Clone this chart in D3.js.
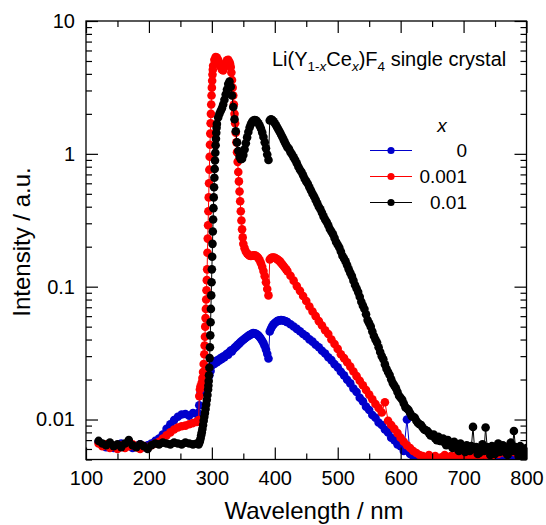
<!DOCTYPE html>
<html>
<head>
<meta charset="utf-8">
<script src="https://cdn.jsdelivr.net/npm/d3@7"></script>
<style>
  body { margin: 0; background: #fff; }
  svg { font-family: "Liberation Sans", Arial, sans-serif; }
  .axis path { display: none; }
  .axis line { stroke: #000; stroke-width: 1.2; }
  .axis text { font-size: 20px; fill: #000; }
</style>
</head>
<body>
<svg width="546" height="525"></svg>
<script>
// ---------------- data (wavelength nm, intensity a.u.) ----------------
const seriesNames = ['0', '0.001', '0.01'];
const seriesColors = ['#0000cc', '#ff0000', '#000000'];

const blueData = [
  [120,.0068],[126,.0064],[132,.0062],[138,.0065],[144,.0061],[150,.0063],[156,.0066],[162,.0062],[168,.0064],[174,.0061],[180,.0063],[186,.0065],[192,.0062],[198,.0064],[204,.0066],[210,.0069],[216,.0072],[222,.0077],[228,.0085],[234,.0092],[240,.0099],[246,.0105],[252,.0109],[258,.0110],[264,.0107],[270,.0112],[276,.0110],
  [278,.0112],[280,.0128],[282,.0158],[284,.0166],[286,.0174],[288,.0182],[290,.0190],[292,.0198],[294,.0206],[296,.0215],[298,.0232],[300,.0255],[302,.0268],[304,.0262],[306,.0275],[308,.0270],[310,.0282],[312,.0278],[314,.0290],[316,.0286],[318,.0298],[320,.0294],[322,.0306],[324,.0312],[326,.0308],[328,.0322],[330,.0330],[332,.0326],[334,.0338],[336,.0346],[338,.0352],[340,.0360],[342,.0368],[344,.0376],[346,.0384],[348,.0392],[350,.0398],[352,.0405],[354,.0412],[356,.0420],[358,.0426],[360,.0432],[362,.0438],[364,.0443],[366,.0447],[368,.0446],[370,.0442],[372,.0436],[374,.0428],[376,.0418],[378,.0406],[380,.0392],[382,.0376],[384,.0358],[386,.0336],[388,.0312],[390,.0288],[392,.0460],[394,.0485],[396,.0505],[398,.0520],[400,.0532],[402,.0542],[404,.0550],[406,.0555],[408,.0558],[410,.0560],[412,.0559],[414,.0556],[416,.0552],[418,.0547],[420,.0541],
  [425,.0522],[430,.0502],[435,.0481],[440,.0462],[445,.0440],[450,.0424],[455,.0401],[460,.0386],[465,.0365],[470,.0350],[475,.0329],[480,.0314],[485,.0294],[490,.0280],[495,.0261],[500,.0247],[505,.0229],[510,.0215],[515,.0199],[520,.0187],[525,.0171],[530,.0161],[535,.0146],[540,.0137],[545,.0125],[550,.0118],[555,.0108],[560,.0103],[565,.0095],[570,.0091],[575,.0084],[580,.0080],[585,.0073],[590,.0070],[595,.0065],[600,.0063],[605,.0058],[610,.0100],[615,.0055],[620,.0053],[625,.0050],[630,.0049],[635,.0051],[640,.0048],[645,.0050],[650,.0047],[655,.0049],[660,.0048],[665,.0051],[670,.0047],[675,.0049],[680,.0052],[685,.0048],[690,.0050],[695,.0047],[700,.0051],[705,.0049],[710,.0053],[715,.0048],[720,.0050],[725,.0052],[730,.0048],[735,.0051],[740,.0054],[745,.0049],[750,.0052],[755,.0050],[760,.0055],[765,.0051],[770,.0049],[775,.0053],[780,.0056],[785,.0052],[790,.0058],[795,.0054],[800,.0057]
];

const redData = [
  [120,.0066],[126,.0063],[132,.0065],[138,.0061],[144,.0063],[150,.0060],[156,.0064],[162,.0061],[168,.0063],[174,.0065],[180,.0062],[186,.0060],[192,.0063],[198,.0061],[204,.0064],[210,.0066],[216,.0068],[222,.0072],[228,.0076],[234,.0080],[240,.0084],[246,.0087],[252,.0089],[258,.0090],[264,.0092],[270,.0094],[276,.0096],
  [278,.0097],[279,.0099],[280,.0150],[281,.0168],[282,.0178],[283,.0175],[284,.0190],[285,.0205],[286,.0228],[287,.0262],[288,.0310],
  [288.5,.036],[289,.042],[289.5,.050],[290,.058],[290.5,.068],[291,.080],[291.5,.094],[292,.112],[292.5,.135],[293,.18],[293.5,.23],[294,.29],[294.5,.37],[295,.47],[295.5,.60],[296,.76],[296.5,.95],[297,1.17],[297.5,1.42],[298,1.70],[298.5,2.0],[299,2.35],[299.5,2.75],[300,3.15],[300.5,3.55],[301,3.95],[301.5,4.3],[302,4.6],
  [304,5.1],[306,5.35],[308,5.3],[310,5.1],[312,4.8],[314,4.5],[316,4.3],[318,4.25],[320,4.5],[322,4.85],[324,5.05],[326,5.1],[328,4.9],
  [329,4.75],[330,4.5],[331,4.1],[332,3.6],[333,3.15],[334,2.75],[335,2.35],[336,2.0],[337,1.7],[338,1.44],[339,1.22],[340,1.03],[341,.87],[342,.73],[343,.62],[344,.52],[345,.44],[346,.37],[347,.315],[348,.27],[349,.235],[350,.21],
  [352,.195],[354,.184],[356,.178],[358,.174],[360,.171],[362,.170],[364,.171],[366,.172],[368,.172],[370,.171],[372,.168],[374,.164],[376,.158],[378,.150],[380,.141],[382,.131],[384,.120],[386,.108],[388,.096],[390,.086],[392,.160],[394,.164],[396,.166],[398,.166],[400,.165],[402,.163],[404,.161],[406,.158],[408,.155],[410,.151],[412,.147],[414,.143],[416,.139],[418,.135],[420,.131],
  [425,.121],[430,.111],[435,.101],[440,.093],[445,.085],[450,.078],[455,.071],[460,.065],[465,.060],[470,.055],[475,.051],[480,.047],[485,.044],[490,.040],[495,.037],[500,.034],[505,.031],[510,.029],[515,.027],[520,.025],[525,.023],[530,.0212],[535,.0196],[540,.0181],[545,.0167],[550,.0154],[555,.0142],[560,.0131],[565,.0122],[570,.0113],[575,.0135],[580,.0098],[585,.0091],[590,.0085],[595,.0079],[600,.0073],[605,.0068],[610,.0064],[615,.0061],[620,.0058],[625,.0056],[630,.0054],[635,.0053],[640,.0052],[645,.0054],[650,.0051],[655,.0053],[660,.0050],[665,.0052],[670,.0054],[675,.0051],[680,.0053],[685,.0050],[690,.0055],[695,.0052],[700,.0054],[705,.0051],[710,.0056],[715,.0053],[720,.0055],[725,.0052],[730,.0057],[735,.0054],[740,.0056],[745,.0053],[750,.0058],[755,.0055],[760,.0060],[765,.0056],[770,.0062],[775,.0057],[780,.0059],[785,.0055],[790,.0058],[795,.0056],[800,.0060]
];

const blackData = [
  [120,.0069],[126,.0066],[132,.0064],[138,.0067],[144,.0063],[150,.0065],[156,.0062],[162,.0066],[168,.0070],[174,.0064],[180,.0062],[186,.0065],[192,.0063],[198,.0060],[204,.0064],[210,.0066],[216,.0065],[222,.0067],[228,.0066],[234,.0065],[240,.0067],[246,.0066],[252,.0065],[258,.0067],[264,.0066],[270,.0065],[276,.0066],
  [278,.0066],[279,.0065],[280,.0067],[281,.0069],[282,.0072],[283,.0076],[284,.0080],[285,.0085],[286,.0091],[287,.0098],[288,.0105],[289,.0112],[290,.0120],[291,.0130],[292,.0141],[293,.0153],[294,.0168],
  [294.5,.0180],[295,.0195],[295.5,.0215],[296,.0245],[296.5,.0290],[297,.035],[297.5,.043],[298,.054],[298.5,.068],[299,.086],[299.5,.108],[300,.135],[300.5,.168],[301,.21],[301.5,.26],[302,.32],[302.5,.39],[303,.47],[303.5,.56],[304,.66],[304.5,.77],[305,.89],[305.5,1.02],[306,1.16],[306.5,1.30],[307,1.44],[307.5,1.57],[308,1.68],
  [310,1.88],[312,2.0],[314,2.1],[316,2.2],[318,2.35],[320,2.55],[322,2.8],[324,3.05],[326,3.35],[328,3.5],[330,3.2],
  [332,2.75],[334,2.25],[336,1.82],[338,1.48],[340,1.22],[342,1.05],[344,.95],[346,.91],[348,.92],[350,.98],[352,1.08],[354,1.2],[356,1.33],[358,1.46],[360,1.58],[362,1.67],[364,1.74],[366,1.78],[368,1.80],[370,1.79],[372,1.75],[374,1.70],[376,1.63],[378,1.55],[380,1.45],[382,1.34],[384,1.22],[386,1.10],[388,.99],[390,.90],[392,1.78],[394,1.82],[396,1.80],[398,1.76],[400,1.70],[402,1.64],[404,1.58],[406,1.52],[408,1.46],[410,1.40],[412,1.34],[414,1.28],[416,1.22],[418,1.17],[420,1.12],
  [422.5,1.09],[425,1.03],[427.5,.99],[430,.94],[432.5,.90],[435,.85],[437.5,.80],[440,.76],[442.5,.73],[445,.69],[447.5,.65],[450,.62],[452.5,.595],[455,.56],[457.5,.53],[460,.50],[462.5,.478],[465,.45],[467.5,.425],[470,.40],[472.5,.383],[475,.36],[477.5,.338],[480,.32],[482.5,.307],[485,.29],[487.5,.272],[490,.26],[492.5,.248],[495,.232],[497.5,.217],[500,.207],[502.5,.197],[505,.184],[507.5,.171],[510,.163],[512.5,.155],[515,.145],[517.5,.135],[520,.127],[522.5,.120],[525,.111],[527.5,.103],[530,.097],[532.5,.091],[535,.084],[537.5,.077],[540,.072],[542.5,.068],[545,.062],[547.5,.056],[550,.053],[552.5,.050],[555,.046],[557.5,.0425],[560,.040],[562.5,.038],[565,.035],[567.5,.0322],[570,.030],[572.5,.0284],[575,.026],[577.5,.0241],[580,.0228],[582.5,.0216],[585,.0201],[587.5,.0188],[590,.0180],[592.5,.0172],[595,.0161],[597.5,.0151],[600,.0146],[602.5,.0141],[605,.0132],[607.5,.0124],[610,.0121],[612.5,.0118],[615,.0112],[617.5,.0106],[620,.0105],[622.5,.0103],[625,.0098],[627.5,.0094],[630,.0092],[632.5,.0091],[635,.0087],[637.5,.0084],[640,.0083],[642.5,.0082],[645,.0079],[647.5,.0076],[650,.0076],[652.5,.0077],[655,.0072],[657.5,.0070],
  [660,.0074],[662.5,.0069],[665,.0069],[667.5,.0072],[670,.0067],[672.5,.0064],[675,.0070],[677.5,.0066],[680,.0064],[682.5,.0061],[685,.0068],[687.5,.0063],[690,.0062],[692.5,.0058],[695,.0066],[697.5,.0061],[700,.0060],[702.5,.0057],[705,.0064],[707.5,.0060],[710,.0058],[712.5,.0063],[715,.0088],[717.5,.0060],[720,.0062],[722.5,.0055],[725,.0056],[727.5,.0061],[730,.0065],[732.5,.0058],[735,.0087],[737.5,.0062],[740,.0059],[742.5,.0054],[745,.0063],[747.5,.0060],[750,.0055],[752.5,.0061],[755,.0066],[757.5,.0057],[760,.0058],[762.5,.0064],[765,.0062],[767.5,.0056],[770,.0054],[772.5,.0060],[775,.0067],[777.5,.0058],[780,.0082],[782.5,.0062],[785,.0057],[787.5,.0053],[790,.0063],[792.5,.0059],[795,.0053],[797.5,.0058],[800,.0061]
];

const xMajorTicks = [100, 200, 300, 400, 500, 600, 700, 800];
const xMinorTicks = [150, 250, 350, 450, 550, 650, 750];
const yMajorTicks = [0.01, 0.1, 1, 10];
const yTickLabels = ['0.01', '0.1', '1', '10'];
const yMinorTicks = [0.005, 0.006, 0.007, 0.008, 0.009,
  0.02, 0.03, 0.04, 0.05, 0.06, 0.07, 0.08, 0.09,
  0.2, 0.3, 0.4, 0.5, 0.6, 0.7, 0.8, 0.9,
  2, 3, 4, 5, 6, 7, 8, 9];

//================ layout =================
const plotLeft = 86, plotRight = 526.5, plotTop = 21, plotBottom = 459.5;
const svg = d3.select('svg');

const x = d3.scaleLinear().domain([100, 800]).range([plotLeft, plotRight]);
const y = d3.scaleLog().domain([0.005, 10]).range([plotBottom, plotTop]);

svg.append('defs').append('clipPath').attr('id', 'plotclip')
  .append('rect')
    .attr('x', plotLeft).attr('y', plotTop)
    .attr('width', plotRight - plotLeft).attr('height', plotBottom - plotTop);

//================ series =================
const line = d3.line().x(d => x(d[0])).y(d => y(d[1]));
const allSeries = [blueData, redData, blackData];

const plot = svg.append('g').attr('clip-path', 'url(#plotclip)');
allSeries.forEach((data, i) => {
  const g = plot.append('g');
  g.append('path')
    .datum(data)
    .attr('fill', 'none')
    .attr('stroke', seriesColors[i])
    .attr('stroke-width', 1)
    .attr('d', line);
  g.selectAll('circle')
    .data(data)
    .join('circle')
      .attr('cx', d => x(d[0]))
      .attr('cy', d => y(d[1]))
      .attr('r', 4.3)
      .attr('fill', seriesColors[i]);
});

//================ axes (ticks inward) =================
const fmt = d => yTickLabels[yMajorTicks.indexOf(d)];

svg.append('g').attr('class', 'axis')
  .attr('transform', `translate(0,${plotBottom})`)
  .call(d3.axisBottom(x).tickValues(xMajorTicks).tickSize(-12).tickPadding(11.5).tickFormat(d3.format('d')));
svg.append('g').attr('class', 'axis')
  .attr('transform', `translate(0,${plotBottom})`)
  .call(d3.axisBottom(x).tickValues(xMinorTicks).tickSize(-6).tickFormat(''));
svg.append('g').attr('class', 'axis')
  .attr('transform', `translate(0,${plotTop})`)
  .call(d3.axisTop(x).tickValues(xMajorTicks).tickSize(-12).tickFormat(''));
svg.append('g').attr('class', 'axis')
  .attr('transform', `translate(0,${plotTop})`)
  .call(d3.axisTop(x).tickValues(xMinorTicks).tickSize(-6).tickFormat(''));

svg.append('g').attr('class', 'axis')
  .attr('transform', `translate(${plotLeft},0)`)
  .call(d3.axisLeft(y).tickValues(yMajorTicks).tickSize(-12).tickPadding(11).tickFormat(fmt));
svg.append('g').attr('class', 'axis')
  .attr('transform', `translate(${plotLeft},0)`)
  .call(d3.axisLeft(y).tickValues(yMinorTicks).tickSize(-6).tickFormat(''));
svg.append('g').attr('class', 'axis')
  .attr('transform', `translate(${plotRight},0)`)
  .call(d3.axisRight(y).tickValues(yMajorTicks).tickSize(-12).tickFormat(''));
svg.append('g').attr('class', 'axis')
  .attr('transform', `translate(${plotRight},0)`)
  .call(d3.axisRight(y).tickValues(yMinorTicks).tickSize(-6).tickFormat(''));

svg.append('rect')
  .attr('x', plotLeft).attr('y', plotTop)
  .attr('width', plotRight - plotLeft).attr('height', plotBottom - plotTop)
  .attr('fill', 'none').attr('stroke', '#000').attr('stroke-width', 1.3);

//================ titles =================
svg.append('text')
  .attr('x', 314).attr('y', 519)
  .attr('text-anchor', 'middle')
  .style('font-size', '24px')
  .text('Wavelength / nm');

svg.append('text')
  .attr('transform', 'translate(30,242) rotate(-90)')
  .attr('text-anchor', 'middle')
  .style('font-size', '24px')
  .text('Intensity / a.u.');

//---- sample annotation
const ann = svg.append('text')
  .attr('x', 272).attr('y', 66)
  .style('font-size', '20px');
ann.append('tspan').text('Li(Y');
ann.append('tspan').attr('dy', 5).style('font-size', '13.5px').text('1-');
ann.append('tspan').style('font-size', '13.5px').style('font-style', 'italic').text('x');
ann.append('tspan').attr('dy', -5).text('Ce');
ann.append('tspan').attr('dy', 5).style('font-size', '13.5px').style('font-style', 'italic').text('x');
ann.append('tspan').attr('dy', -5).text(')F');
ann.append('tspan').attr('dy', 5).style('font-size', '13.5px').text('4');
ann.append('tspan').attr('dy', -5).text(' single crystal');

//================ legend =================
const legend = svg.append('g');
legend.append('text')
  .attr('x', 442).attr('y', 131.5)
  .attr('text-anchor', 'middle')
  .style('font-size', '19px').style('font-style', 'italic')
  .text('x');

const legendY = d3.scalePoint().domain(seriesNames).range([150.5, 202.5]);
seriesNames.forEach((name, i) => {
  const ly = legendY(name);
  legend.append('line')
    .attr('x1', 370).attr('x2', 412).attr('y1', ly).attr('y2', ly)
    .attr('stroke', seriesColors[i]).attr('stroke-width', 1.2);
  legend.append('circle')
    .attr('cx', 391).attr('cy', ly).attr('r', 3.6)
    .attr('fill', seriesColors[i]);
  legend.append('text')
    .attr('x', 467).attr('y', ly + 6.8)
    .attr('text-anchor', 'end')
    .style('font-size', '19px')
    .text(name);
});
</script>
</body>
</html>
